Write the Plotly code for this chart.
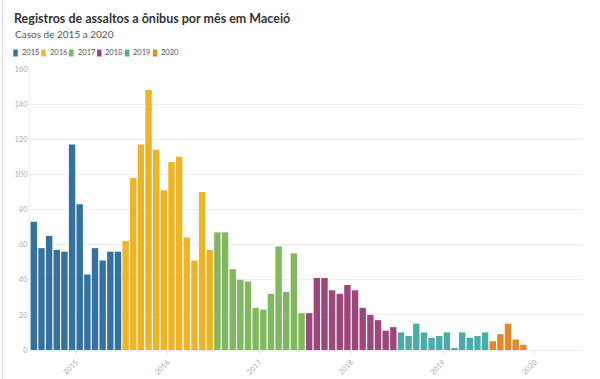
import plotly.graph_objects as go

years = ["2015", "2016", "2017", "2018", "2019", "2020"]
colors = ["#33729e", "#edb426", "#80b75f", "#9b477c", "#4caaa9", "#e0892a"]
v2015 = [73, 58, 65, 57, 56, 117, 83, 43, 58, 51, 56, 56]
v2016 = [62, 98, 117, 148, 114, 91, 107, 110, 64, 51, 90, 57]
v2017 = [67, 67, 46, 40, 39, 24, 23, 32, 59, 33, 55, 21]
v2018 = [21, 41, 41, 34, 32, 37, 34, 24, 20, 17, 11, 13]
v2019 = [10, 8, 15, 10, 7, 8, 10, 1, 10, 7, 8, 10]
v2020 = [5, 9, 15, 6, 3]
series = [v2015, v2016, v2017, v2018, v2019, v2020]

title = "Registros de assaltos a ônibus por mês em Maceió"
subtitle = "Casos de 2015 a 2020"
y_ticks = [0, 20, 40, 60, 80, 100, 120, 140, 160]

W, H = 600, 379
ML, MR, MT, MB = 30, 17, 69, 29
PW, PH = W - ML - MR, H - MT - MB
FONT = "Lato, 'Source Sans Pro', 'Open Sans', sans-serif"


def px_x(p):
    return (p - ML) / PW


def px_y(p):
    return (H - MB - p) / PH


fig = go.Figure()
start = 0
for yr, col, vals in zip(years, colors, series):
    xs = list(range(start, start + len(vals)))
    fig.add_trace(go.Bar(x=xs, y=vals, name=yr, marker=dict(color=col, line=dict(width=0)),
                         showlegend=False))
    start += len(vals)

tickvals = [i * 12 + 5.5 for i in range(len(years))]

fig.update_layout(
    width=W, height=H,
    margin=dict(l=ML, r=MR, t=MT, b=MB, autoexpand=False),
    paper_bgcolor="white", plot_bgcolor="white",
    bargap=0.16,
    font=dict(family=FONT, color="#333"),
    title=dict(text="<b>" + title + "</b>", x=14 / W, xanchor="left", xref="container",
               y=1 - 18.5 / H, yanchor="middle", yref="container",
               font=dict(size=12.5, color="#333", family=FONT)),
    xaxis=dict(range=[-0.5, 71.8], tickvals=tickvals, ticktext=years, tickangle=-45,
               automargin=False,
               showgrid=False, zeroline=False, showline=True, linecolor="#eeeeee",
               ticks="outside", ticklen=4, tickcolor="#e4e4e4",
               tickfont=dict(size=7.5, color="#aaaaaa", family=FONT)),
    yaxis=dict(range=[0, 160], tickvals=y_ticks, showgrid=True, gridcolor="#eeeeee",
               automargin=False,
               zeroline=False, showline=True, linecolor="#f0f0f0",
               tickfont=dict(size=7.5, color="#aaaaaa", family=FONT), ticklen=0),
)

annotations = [dict(text=subtitle, x=px_x(13), xref="paper", y=px_y(34), yref="paper",
                    xanchor="left", yanchor="middle", showarrow=False,
                    font=dict(size=10, color="#555", family=FONT))]
shapes = [dict(type="line", xref="paper", yref="paper", x0=px_x(2.5), x1=px_x(2.5),
               y0=px_y(0), y1=px_y(H), line=dict(color="#dddddd", width=1))]

# the legend is placed like the reference's
for i, (yr, col) in enumerate(zip(years, colors)):
    x0 = 13.3 + i * 27.9
    shapes.append(dict(type="rect", xref="paper", yref="paper",
                       x0=px_x(x0), x1=px_x(x0 + 4.5), y0=px_y(56.5), y1=px_y(49.5),
                       fillcolor=col, line=dict(width=0)))
    annotations.append(dict(text=yr, x=px_x(x0 + 6.5), xref="paper", y=px_y(53), yref="paper",
                            xanchor="left", yanchor="middle", showarrow=False,
                            font=dict(size=7.5, color="#555", family=FONT)))

fig.update_layout(annotations=annotations, shapes=shapes)
fig.write_html("out.html", config={"displayModeBar": False},
               post_script="document.body.style.margin='0';document.body.style.overflow='hidden';")
